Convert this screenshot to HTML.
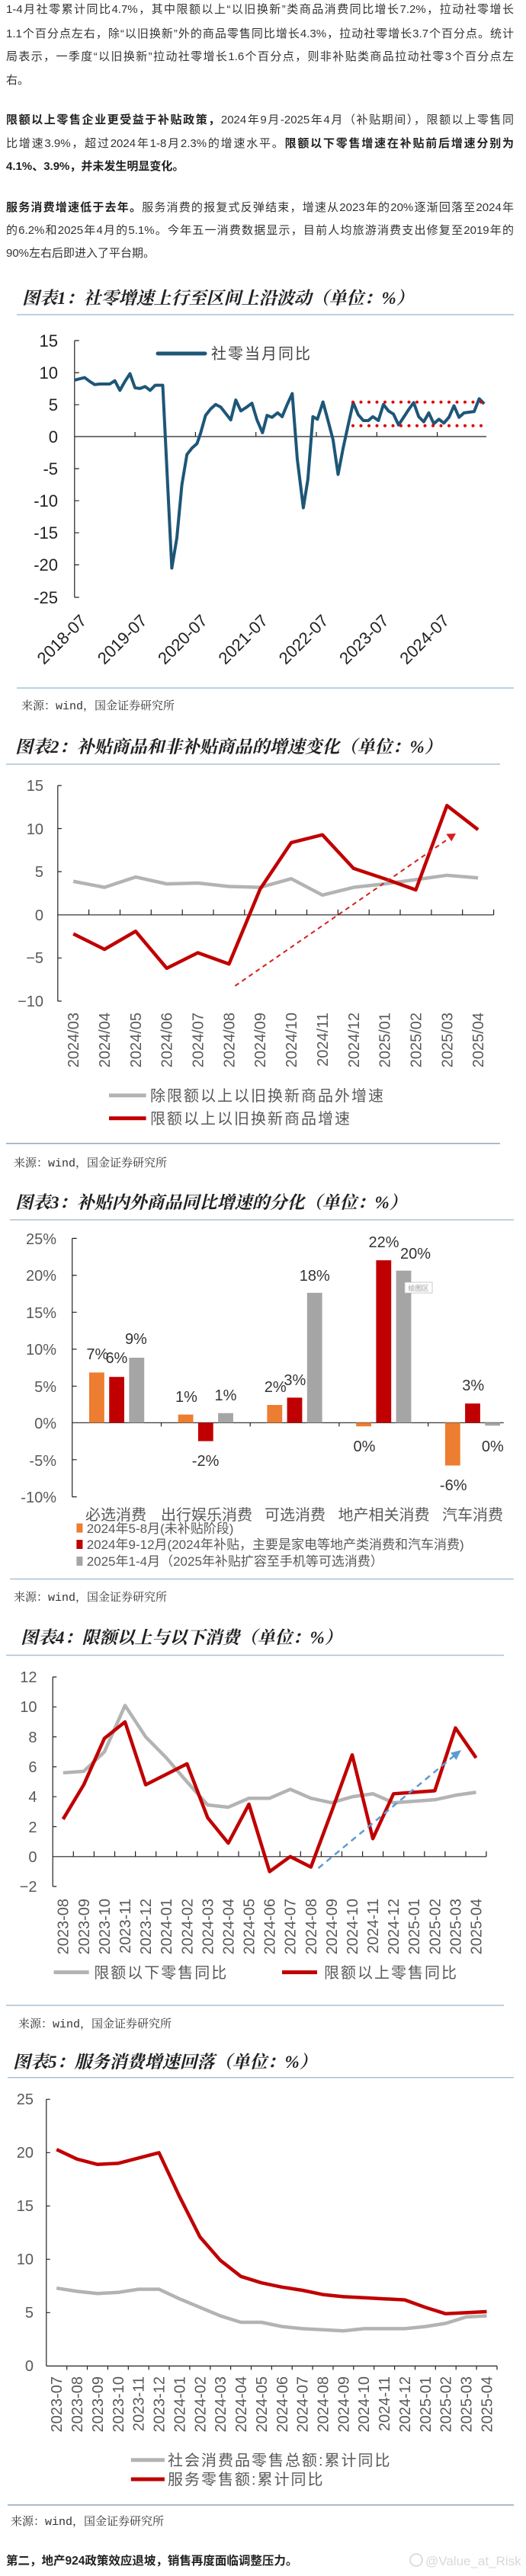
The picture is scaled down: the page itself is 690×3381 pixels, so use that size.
<!DOCTYPE html>
<html><head><meta charset="utf-8">
<style>
html,body{margin:0;padding:0;background:#fff;}
body{width:690px;height:3381px;position:relative;overflow:hidden;font-family:"Liberation Sans","Noto Sans CJK SC",sans-serif;}
.ln{position:absolute;left:8px;width:666px;font-size:15px;color:#333;line-height:20px;text-align:justify;text-align-last:justify;white-space:nowrap;}
.ln.l{text-align-last:left;}
b{font-weight:bold;color:#222;}
svg{position:absolute;left:0;top:0;}
.tt{font-family:"Liberation Serif","Noto Serif CJK SC",serif;font-style:italic;font-weight:bold;font-size:23px;fill:#222;}
.src{font-family:"Liberation Mono","Noto Serif CJK SC",serif;font-size:15px;fill:#333;}
.tk{font-family:"Liberation Sans",sans-serif;font-size:20px;fill:#595959;}
.tk1{font-family:"Liberation Sans",sans-serif;font-size:22px;fill:#222;}
.lg{font-family:"Liberation Sans","Noto Sans CJK SC",sans-serif;font-size:20px;fill:#595959;letter-spacing:2px;}
</style></head><body>
<div class="ln" style="top:3px">1-4月社零累计同比4.7%，其中限额以上“以旧换新”类商品消费同比增长7.2%，拉动社零增长</div>
<div class="ln" style="top:35px">1.1个百分点左右，除“以旧换新”外的商品零售同比增长4.3%，拉动社零增长3.7个百分点。统计</div>
<div class="ln" style="top:65px">局表示，一季度“以旧换新”拉动社零增长1.6个百分点，则非补贴类商品拉动社零3个百分点左</div>
<div class="ln l" style="top:96px">右。</div>
<div class="ln" style="top:148px"><b>限额以上零售企业更受益于补贴政策，</b>2024年9月-2025年4月（补贴期间），限额以上零售同</div>
<div class="ln" style="top:179px">比增速3.9%，超过2024年1-8月2.3%的增速水平。<b>限额以下零售增速在补贴前后增速分别为</b></div>
<div class="ln l" style="top:209px"><b>4.1%、3.9%，并未发生明显变化。</b></div>
<div class="ln" style="top:263px"><b>服务消费增速低于去年。</b>服务消费的报复式反弹结束，增速从2023年的20%逐渐回落至2024年</div>
<div class="ln" style="top:293px">的6.2%和2025年4月的5.1%。今年五一消费数据显示，目前人均旅游消费支出修复至2019年的</div>
<div class="ln l" style="top:323px">90%左右后即进入了平台期。</div>

<svg width="690" height="3381" viewBox="0 0 690 3381" xmlns="http://www.w3.org/2000/svg">
<!-- ============ CHART 1 ============ -->
<text class="tt" x="29" y="399">图表1：社零增速上行至区间上沿波动（单位：%）</text>
<line x1="22" y1="413" x2="674" y2="413" stroke="#a9c1d3" stroke-width="1.5"/>
<g stroke="#222" stroke-width="1.2" fill="none">
<line x1="97.8" y1="447" x2="97.8" y2="784"/>
<line x1="97.8" y1="573" x2="638" y2="573"/>
<path d="M97.8 447h6M97.8 489.1h6M97.8 531.2h6M97.8 615.1h6M97.8 657.2h6M97.8 699.3h6M97.8 741.4h6M97.8 784h6"/>
<path d="M177.1 573v-6M256.4 573v-6M335.7 573v-6M415 573v-6M494.3 573v-6M573.6 573v-6"/>
</g>
<g class="tk1" text-anchor="end">
<text x="76" y="455">15</text><text x="76" y="497">10</text><text x="76" y="539">5</text><text x="76" y="581">0</text>
<text x="76" y="623">-5</text><text x="76" y="665">-10</text><text x="76" y="707">-15</text><text x="76" y="749">-20</text><text x="76" y="792">-25</text>
</g>
<g class="tk1" text-anchor="end">
<text transform="translate(114.8,816) rotate(-45)">2018-07</text>
<text transform="translate(194.1,816) rotate(-45)">2019-07</text>
<text transform="translate(273.4,816) rotate(-45)">2020-07</text>
<text transform="translate(352.7,816) rotate(-45)">2021-07</text>
<text transform="translate(432,816) rotate(-45)">2022-07</text>
<text transform="translate(511.3,816) rotate(-45)">2023-07</text>
<text transform="translate(590.6,816) rotate(-45)">2024-07</text>
</g>
<line x1="207" y1="464" x2="269" y2="464" stroke="#1d5677" stroke-width="5" stroke-linecap="round"/>
<text class="lg" x="277" y="471" style="fill:#444">社零当月同比</text>
<g transform="translate(97.8,573) scale(6.61,-8.42)">
<polyline vector-effect="non-scaling-stroke" fill="none" stroke="#1d5677" stroke-width="4" stroke-linejoin="round"
points="0,8.8 1,9.0 2,9.2 3,8.6 4,8.1 5,8.2 6,8.2 7,8.2 8,8.7 9,7.2 10,8.6 11,9.8 12,7.6 13,7.5 14,7.8 15,7.2 16,8.0 17.5,8.0 19.3,-20.5 20.3,-15.8 21.3,-7.5 22.3,-2.8 23.3,-1.8 24.3,-1.1 25,0.5 26,3.3 27,4.3 28,5.0 29,4.6 30,3.6 31,2.6 32,5.7 33,4.0 34,4.5 35.2,5.2 36.2,2.6 37.3,0.6 38.2,3.3 39.2,3.0 40.3,3.7 41.2,3.1 42.2,5.0 43.2,6.7 44.2,-3.5 45.4,-11.1 46.3,-6.7 47.3,3.1 48.2,2.7 49.3,5.4 50.3,2.5 51.3,-0.5 52.3,-5.9 53.3,-1.8 54.3,1.8 55.3,5.3 56.3,3.4 57.3,2.5 58.3,2.5 59.2,3.1 60.3,2.5 61.3,5.0 62.3,4.0 63.3,3.5 64.3,1.8 65.3,3.0 66.3,4.2 67.3,5.3 68.3,3.1 69.3,2.3 70.3,3.7 71.3,2.0 72.3,2.7 73.3,2.1 74.3,3.0 75.3,4.8 76.3,3.0 77.3,3.7 78.3,3.8 79.3,3.9 80.3,5.9 81.3,5.1"/>
</g>
<g stroke="#e00000" stroke-width="4" stroke-linecap="round" stroke-dasharray="0 10.5">
<line x1="463" y1="527.7" x2="636" y2="527.7"/>
<line x1="463" y1="558.7" x2="636" y2="558.7"/>
</g>
<line x1="22" y1="903" x2="674" y2="903" stroke="#a9c1d3" stroke-width="1.5"/>
<text class="src" x="28" y="931">来源：wind，国金证券研究所</text>

<!-- ============ CHART 2 ============ -->
<text class="tt" x="20" y="988">图表2：补贴商品和非补贴商品的增速变化（单位：%）</text>
<line x1="8" y1="1003" x2="656" y2="1003" stroke="#a9c1d3" stroke-width="1.5"/>
<g stroke="#222" stroke-width="1.2" fill="none">
<line x1="75.8" y1="1031" x2="75.8" y2="1314"/>
<line x1="75.8" y1="1200.8" x2="647.6" y2="1200.8"/>
<path d="M75.8 1031h5M75.8 1087.5h5M75.8 1144h5M75.8 1257.3h5M75.8 1314h5"/>
<path d="M116.6 1200.8v-7M157.5 1200.8v-7M198.3 1200.8v-7M239.2 1200.8v-7M280 1200.8v-7M320.8 1200.8v-7M361.7 1200.8v-7M402.5 1200.8v-7M443.4 1200.8v-7M484.2 1200.8v-7M525 1200.8v-7M565.9 1200.8v-7M606.7 1200.8v-7M647.6 1200.8v-7"/>
</g>
<g class="tk" text-anchor="end">
<text x="57" y="1038">15</text><text x="57" y="1095">10</text><text x="57" y="1151">5</text><text x="57" y="1208">0</text><text x="57" y="1264">−5</text><text x="57" y="1321">−10</text>
</g>
<g class="tk" text-anchor="end">
<text transform="translate(103.2,1329) rotate(-90)">2024/03</text>
<text transform="translate(144,1329) rotate(-90)">2024/04</text>
<text transform="translate(184.9,1329) rotate(-90)">2024/05</text>
<text transform="translate(225.7,1329) rotate(-90)">2024/06</text>
<text transform="translate(266.6,1329) rotate(-90)">2024/07</text>
<text transform="translate(307.4,1329) rotate(-90)">2024/08</text>
<text transform="translate(348.2,1329) rotate(-90)">2024/09</text>
<text transform="translate(389.1,1329) rotate(-90)">2024/10</text>
<text transform="translate(429.9,1329) rotate(-90)">2024/11</text>
<text transform="translate(470.8,1329) rotate(-90)">2024/12</text>
<text transform="translate(511.6,1329) rotate(-90)">2025/01</text>
<text transform="translate(552.4,1329) rotate(-90)">2025/02</text>
<text transform="translate(593.3,1329) rotate(-90)">2025/03</text>
<text transform="translate(634.1,1329) rotate(-90)">2025/04</text>
</g>
<g transform="translate(96.2,1200.8) scale(40.84,-11.3)" fill="none" stroke-linejoin="round">
<polyline vector-effect="non-scaling-stroke" stroke="#b3b3b3" stroke-width="4.5" points="0,3.9 1,3.2 2,4.4 3,3.6 4,3.7 5,3.3 6,3.2 7,4.2 8,2.3 9,3.2 10,3.6 11,4.1 12,4.6 13,4.3"/>
<polyline vector-effect="non-scaling-stroke" stroke="#c00000" stroke-width="4.5" points="0,-2.2 1,-4.0 2,-1.9 3,-6.2 4,-4.4 5,-5.7 6,3.0 7,8.4 8,9.3 9,5.4 10,4.2 11,2.9 12,12.7 13,9.9"/>
</g>
<line x1="308.4" y1="1294" x2="588" y2="1101" stroke="#d42020" stroke-width="2" stroke-dasharray="6 5"/>
<polygon points="598,1094 592.3,1104.3 585.3,1094.5" fill="#d42020"/>
<line x1="143" y1="1437.7" x2="191.6" y2="1437.7" stroke="#b3b3b3" stroke-width="5"/>
<text class="lg" x="197" y="1445">除限额以上以旧换新商品外增速</text>
<line x1="143" y1="1467.7" x2="191.6" y2="1467.7" stroke="#c00000" stroke-width="5"/>
<text class="lg" x="197" y="1475">限额以上以旧换新商品增速</text>
<line x1="8" y1="1500.7" x2="656" y2="1500.7" stroke="#8fa9bc" stroke-width="1.5"/>
<text class="src" x="18" y="1531">来源：wind，国金证券研究所</text>

<!-- ============ CHART 3 ============ -->
<text class="tt" x="20" y="1586">图表3：补贴内外商品同比增速的分化（单位：%）</text>
<line x1="13" y1="1601" x2="674" y2="1601" stroke="#a9c1d3" stroke-width="1.5"/>
<g stroke="#222" stroke-width="1.2" fill="none">
<line x1="94.7" y1="1625.4" x2="94.7" y2="1964.6"/>
<line x1="94.7" y1="1867.3" x2="660.8" y2="1867.3"/>
<path d="M94.7 1625.4h6M94.7 1673.9h6M94.7 1722.3h6M94.7 1770.8h6M94.7 1819.3h6M94.7 1915.8h6M94.7 1964.6h6"/>
<path d="M211.5 1867.3v5M328.2 1867.3v5M444.9 1867.3v5M561.7 1867.3v5"/>
</g>
<g class="tk" text-anchor="end">
<text x="74" y="1633">25%</text><text x="74" y="1681">20%</text><text x="74" y="1730">15%</text><text x="74" y="1778">10%</text>
<text x="74" y="1827">5%</text><text x="74" y="1875">0%</text><text x="74" y="1924">-5%</text><text x="74" y="1972">-10%</text>
</g>
<g>
<rect x="117" y="1801.4" width="19.8" height="65.9" fill="#ed7d31"/>
<rect x="143.2" y="1807.2" width="19.8" height="60.1" fill="#c00000"/>
<rect x="169.4" y="1782" width="19.8" height="85.3" fill="#a5a5a5"/>
<rect x="233.7" y="1856.6" width="19.8" height="10.7" fill="#ed7d31"/>
<rect x="259.9" y="1867.3" width="19.8" height="24.2" fill="#c00000"/>
<rect x="286.1" y="1854.7" width="19.8" height="12.6" fill="#a5a5a5"/>
<rect x="350.4" y="1844" width="19.8" height="23.3" fill="#ed7d31"/>
<rect x="376.6" y="1834.4" width="19.8" height="32.9" fill="#c00000"/>
<rect x="402.8" y="1696.8" width="19.8" height="170.5" fill="#a5a5a5"/>
<rect x="467.2" y="1867.3" width="19.8" height="4.8" fill="#ed7d31"/>
<rect x="493.4" y="1654.1" width="19.8" height="213.2" fill="#c00000"/>
<rect x="519.6" y="1667.7" width="19.8" height="199.6" fill="#a5a5a5"/>
<rect x="583.9" y="1867.3" width="19.8" height="56.2" fill="#ed7d31"/>
<rect x="610.1" y="1842.1" width="19.8" height="25.2" fill="#c00000"/>
<rect x="636.3" y="1867.3" width="19.8" height="3.9" fill="#a5a5a5"/>
</g>
<g font-family="Liberation Sans, sans-serif" font-size="20" fill="#333" text-anchor="middle">
<text x="127.8" y="1784">7%</text><text x="152.9" y="1789">6%</text><text x="178.4" y="1764">9%</text>
<text x="244.5" y="1840">1%</text><text x="269.6" y="1924">-2%</text><text x="296" y="1838">1%</text>
<text x="361.2" y="1827">2%</text><text x="386.8" y="1818">3%</text><text x="412.8" y="1681">18%</text>
<text x="478" y="1905">0%</text><text x="503.5" y="1637">22%</text><text x="545" y="1652">20%</text>
<text x="594.7" y="1956">-6%</text><text x="620.7" y="1825">3%</text><text x="646.3" y="1905">0%</text>
</g>
<rect x="531" y="1683" width="36" height="14" fill="#fff" stroke="#bbb" stroke-width="0.8"/>
<text x="549" y="1694" font-family="Noto Sans CJK SC, sans-serif" font-size="9" fill="#999" text-anchor="middle">绘图区</text>
<g class="tk" text-anchor="middle" style="font-family:'Liberation Sans','Noto Sans CJK SC',sans-serif">
<text x="152" y="1995">必选消费</text><text x="271" y="1995">出行娱乐消费</text><text x="387" y="1995">可选消费</text><text x="503.5" y="1995">地产相关消费</text><text x="620" y="1995">汽车消费</text>
</g>
<rect x="100.4" y="1999.5" width="8" height="12" fill="#ed7d31"/>
<rect x="100.4" y="2021" width="8" height="12" fill="#c00000"/>
<rect x="100.4" y="2043" width="8" height="12" fill="#a5a5a5"/>
<g font-family="Liberation Sans, Noto Sans CJK SC, sans-serif" font-size="17" fill="#595959">
<text x="113.7" y="2012">2024年5-8月(未补贴阶段)</text>
<text x="113.7" y="2033">2024年9-12月(2024年补贴，主要是家电等地产类消费和汽车消费)</text>
<text x="113.7" y="2055">2025年1-4月（2025年补贴扩容至手机等可选消费）</text>
</g>
<line x1="13" y1="2072.5" x2="674" y2="2072.5" stroke="#a9c1d3" stroke-width="1.5"/>
<text class="src" x="18" y="2101">来源：wind，国金证券研究所</text>

<!-- ============ CHART 4 ============ -->
<text class="tt" x="27" y="2157">图表4：限额以上与以下消费（单位：%）</text>
<line x1="8" y1="2172.5" x2="661" y2="2172.5" stroke="#a9c1d3" stroke-width="1.5"/>
<g stroke="#222" stroke-width="1.2" fill="none">
<line x1="69.2" y1="2201" x2="69.2" y2="2476"/>
<line x1="69.2" y1="2436.8" x2="637.9" y2="2436.8"/>
<path d="M69.2 2201h5M69.2 2240.3h5M69.2 2279.6h5M69.2 2318.9h5M69.2 2358.2h5M69.2 2397.5h5M69.2 2476h5"/>
<path d="M96.3 2436.8v-7M123.4 2436.8v-7M150.5 2436.8v-7M177.6 2436.8v-7M204.7 2436.8v-7M231.7 2436.8v-7M258.8 2436.8v-7M285.9 2436.8v-7M313 2436.8v-7M340.1 2436.8v-7M367.2 2436.8v-7M394.3 2436.8v-7M421.4 2436.8v-7M448.5 2436.8v-7M475.6 2436.8v-7M502.6 2436.8v-7M529.7 2436.8v-7M556.8 2436.8v-7M583.9 2436.8v-7M611 2436.8v-7M637.9 2436.8v-7"/>
</g>
<g class="tk" text-anchor="end">
<text x="48.5" y="2208">12</text><text x="48.5" y="2247">10</text><text x="48.5" y="2287">8</text><text x="48.5" y="2326">6</text>
<text x="48.5" y="2365">4</text><text x="48.5" y="2405">2</text><text x="48.5" y="2444">0</text><text x="48.5" y="2483">−2</text>
</g>
<g class="tk" text-anchor="end">
<text transform="translate(89.7,2492) rotate(-90)">2023-08</text>
<text transform="translate(116.8,2492) rotate(-90)">2023-09</text>
<text transform="translate(143.9,2492) rotate(-90)">2023-10</text>
<text transform="translate(171,2492) rotate(-90)">2023-11</text>
<text transform="translate(198.1,2492) rotate(-90)">2023-12</text>
<text transform="translate(225.2,2492) rotate(-90)">2024-01</text>
<text transform="translate(252.3,2492) rotate(-90)">2024-02</text>
<text transform="translate(279.3,2492) rotate(-90)">2024-03</text>
<text transform="translate(306.4,2492) rotate(-90)">2024-04</text>
<text transform="translate(333.5,2492) rotate(-90)">2024-05</text>
<text transform="translate(360.6,2492) rotate(-90)">2024-06</text>
<text transform="translate(387.7,2492) rotate(-90)">2024-07</text>
<text transform="translate(414.8,2492) rotate(-90)">2024-08</text>
<text transform="translate(441.9,2492) rotate(-90)">2024-09</text>
<text transform="translate(469,2492) rotate(-90)">2024-10</text>
<text transform="translate(496.1,2492) rotate(-90)">2024-11</text>
<text transform="translate(523.1,2492) rotate(-90)">2024-12</text>
<text transform="translate(550.2,2492) rotate(-90)">2025-01</text>
<text transform="translate(577.3,2492) rotate(-90)">2025-02</text>
<text transform="translate(604.4,2492) rotate(-90)">2025-03</text>
<text transform="translate(631.5,2492) rotate(-90)">2025-04</text>
</g>
<g transform="translate(82.75,2436.8) scale(27.09,-19.64)" fill="none" stroke-linejoin="round">
<polyline vector-effect="non-scaling-stroke" stroke="#b3b3b3" stroke-width="4.5" points="0,5.6 1,5.7 2,7.0 3,10.1 4,8.0 5,6.6 6,5.0 7,3.45 8,3.3 9,3.9 10,3.9 11,4.5 12,3.9 13,3.6 14,4.0 15,4.2 16,3.6 17,3.7 18,3.8 19,4.1 20,4.3"/>
<polyline vector-effect="non-scaling-stroke" stroke="#c00000" stroke-width="4.5" points="0,2.5 1,4.8 2,7.9 3,9.0 4,4.8 5,5.5 6,6.2 7,2.6 8,0.9 9,3.5 10,-1.0 11,0.0 12,-0.7 13,3.0 14,6.8 15,1.2 16,4.2 17,4.3 18,4.4 19,8.6 20,6.6"/>
</g>
<line x1="417.6" y1="2452" x2="595" y2="2305" stroke="#5b9bd5" stroke-width="2.5" stroke-dasharray="8 6"/>
<polygon points="605,2297 598.5,2310 591,2300.5" fill="#5b9bd5"/>
<line x1="70.5" y1="2588.6" x2="116.7" y2="2588.6" stroke="#b3b3b3" stroke-width="5"/>
<text class="lg" x="123.3" y="2596">限额以下零售同比</text>
<line x1="370" y1="2588.6" x2="416" y2="2588.6" stroke="#c00000" stroke-width="5"/>
<text class="lg" x="425" y="2596">限额以上零售同比</text>
<line x1="8" y1="2632" x2="661" y2="2632" stroke="#a9c1d3" stroke-width="1.5"/>
<text class="src" x="24" y="2661">来源：wind，国金证券研究所</text>

<!-- ============ CHART 5 ============ -->
<text class="tt" x="17" y="2714">图表5：服务消费增速回落（单位：%）</text>
<line x1="10" y1="2726.7" x2="674" y2="2726.7" stroke="#a9c1d3" stroke-width="1.5"/>
<g stroke="#222" stroke-width="1.2" fill="none">
<line x1="60.8" y1="2755.3" x2="60.8" y2="3105.4"/>
<line x1="60.8" y1="3105.4" x2="652" y2="3105.4"/>
<path d="M60.8 2755.3h5M60.8 2825.3h5M60.8 2895.3h5M60.8 2965.3h5M60.8 3035.3h5"/>
<path d="M87.7 3105.4v5M114.5 3105.4v5M141.4 3105.4v5M168.3 3105.4v5M195.2 3105.4v5M222 3105.4v5M248.9 3105.4v5M275.8 3105.4v5M302.6 3105.4v5M329.5 3105.4v5M356.4 3105.4v5M383.2 3105.4v5M410.1 3105.4v5M437 3105.4v5M463.8 3105.4v5M490.7 3105.4v5M517.6 3105.4v5M544.5 3105.4v5M571.3 3105.4v5M598.2 3105.4v5M625.1 3105.4v5M652 3105.4v5"/>
</g>
<g class="tk" text-anchor="end">
<text x="44" y="2762">25</text><text x="44" y="2832">20</text><text x="44" y="2902">15</text><text x="44" y="2972">10</text><text x="44" y="3042">5</text><text x="44" y="3112">0</text>
</g>
<g class="tk" text-anchor="end">
<text transform="translate(81.2,3119) rotate(-90)">2023-07</text>
<text transform="translate(108.1,3119) rotate(-90)">2023-08</text>
<text transform="translate(134.9,3119) rotate(-90)">2023-09</text>
<text transform="translate(161.8,3119) rotate(-90)">2023-10</text>
<text transform="translate(188.7,3119) rotate(-90)">2023-11</text>
<text transform="translate(215.6,3119) rotate(-90)">2023-12</text>
<text transform="translate(242.4,3119) rotate(-90)">2024-01</text>
<text transform="translate(269.3,3119) rotate(-90)">2024-02</text>
<text transform="translate(296.2,3119) rotate(-90)">2024-03</text>
<text transform="translate(323,3119) rotate(-90)">2024-04</text>
<text transform="translate(349.9,3119) rotate(-90)">2024-05</text>
<text transform="translate(376.8,3119) rotate(-90)">2024-06</text>
<text transform="translate(403.6,3119) rotate(-90)">2024-07</text>
<text transform="translate(430.5,3119) rotate(-90)">2024-08</text>
<text transform="translate(457.4,3119) rotate(-90)">2024-09</text>
<text transform="translate(484.2,3119) rotate(-90)">2024-10</text>
<text transform="translate(511.1,3119) rotate(-90)">2024-11</text>
<text transform="translate(538,3119) rotate(-90)">2024-12</text>
<text transform="translate(564.9,3119) rotate(-90)">2025-01</text>
<text transform="translate(591.7,3119) rotate(-90)">2025-02</text>
<text transform="translate(618.6,3119) rotate(-90)">2025-03</text>
<text transform="translate(645.5,3119) rotate(-90)">2025-04</text>
</g>
<g transform="translate(74.2,3105.4) scale(26.87,-14.0)" fill="none" stroke-linejoin="round">
<polyline vector-effect="non-scaling-stroke" stroke="#b3b3b3" stroke-width="4.5" points="0,7.3 1,7.0 2,6.8 3,6.9 4,7.2 5,7.2 6,6.3 7,5.5 8,4.7 9,4.1 10,4.1 11,3.7 12,3.5 13,3.4 14,3.3 15,3.5 16,3.5 17,3.5 18,3.7 19,4.0 20,4.6 21,4.7"/>
<polyline vector-effect="non-scaling-stroke" stroke="#c00000" stroke-width="4.5" points="0,20.3 1,19.4 2,18.9 3,19.0 4,19.5 5,20.0 6,15.9 7,12.1 8,9.9 9,8.4 10,7.8 11,7.4 12,7.1 13,6.7 14,6.5 15,6.4 16,6.3 17,6.2 18,5.5 19,4.9 20,5.0 21,5.1"/>
</g>
<line x1="171.8" y1="3228.7" x2="215.9" y2="3228.7" stroke="#b3b3b3" stroke-width="5"/>
<text class="lg" x="220" y="3236">社会消费品零售总额:累计同比</text>
<line x1="171.8" y1="3254" x2="215.9" y2="3254" stroke="#c00000" stroke-width="5"/>
<text class="lg" x="220" y="3261">服务零售额:累计同比</text>
<line x1="10" y1="3287.7" x2="674" y2="3287.7" stroke="#8fa9bc" stroke-width="1.5"/>
<text class="src" x="14" y="3314">来源：wind，国金证券研究所</text>
<text x="8" y="3366" font-family="Liberation Sans, Noto Sans CJK SC, sans-serif" font-size="15.5" font-weight="bold" fill="#222">第二，地产924政策效应退坡，销售再度面临调整压力。</text>
<circle cx="546" cy="3360" r="8" fill="none" stroke="#ddd" stroke-width="2"/>
<text x="558" y="3367" font-family="Liberation Sans, sans-serif" font-size="17" fill="#d8d8d8">@Value_at_Risk</text>
</svg>
</body></html>
